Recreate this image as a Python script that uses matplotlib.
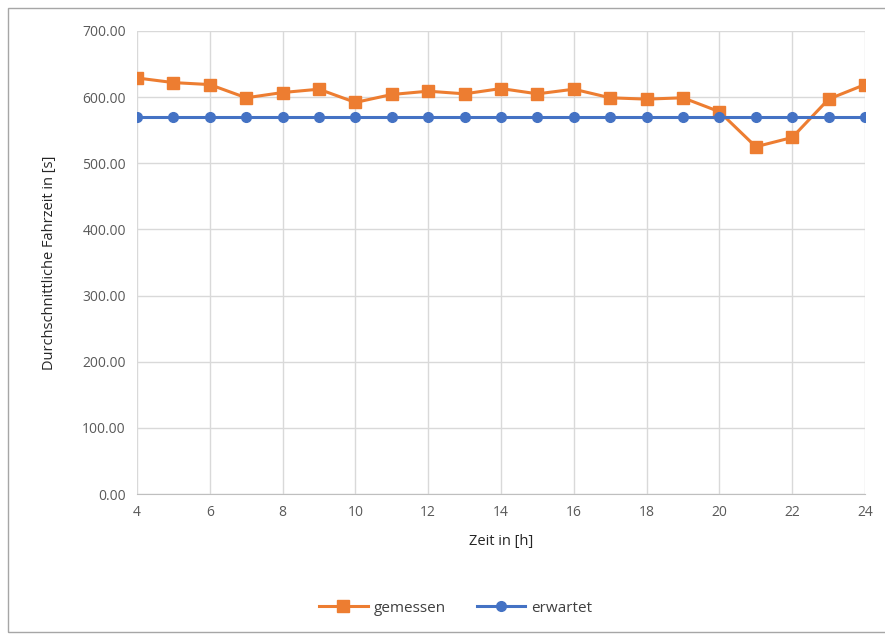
import matplotlib.pyplot as plt
from matplotlib.patches import Rectangle

hours = list(range(4, 25))
gemessen = [629, 622, 619, 599, 607, 612, 592, 604, 609, 605, 613,
            605, 612, 599, 597, 599, 578, 525, 539, 597, 619]
erwartet = [570] * len(hours)

plt.rcParams['font.family'] = ['Open Sans', 'DejaVu Sans']

fig = plt.figure(figsize=(8.85, 6.35), dpi=100)
ax = fig.add_axes([137/885, 1 - 494/635, (865 - 137)/885, (494 - 31)/635])

# thin frame round the whole chart
fig.patches.append(Rectangle((8/885, 3/635), 1.0, 1 - 11/635, transform=fig.transFigure,
                             fill=False, edgecolor='#a6a6a6', linewidth=1))

ax.plot(hours, gemessen, color='#ED7D31', marker='s', markersize=8, linewidth=2.2,
        label='gemessen', zorder=3)
ax.plot(hours, erwartet, color='#4472C4', marker='o', markersize=7, linewidth=2.2,
        label='erwartet', zorder=3)

ax.set_xlim(4, 24)
ax.set_ylim(0, 700)
ax.set_xticks(range(4, 25, 2))
ax.set_yticks(range(0, 701, 100))
ax.set_yticklabels(['%.2f' % v for v in range(0, 701, 100)])
ax.grid(True, color='#d9d9d9', linewidth=1)
ax.set_axisbelow(True)
for s in ['top', 'right', 'left']:
    ax.spines[s].set_visible(False)
ax.spines['bottom'].set_color('#bfbfbf')
ax.tick_params(length=0, labelsize=10, labelcolor='#595959', pad=8)

ax.set_xlabel('Zeit in [h]', fontsize=10.5, color='#262626', labelpad=10)
ax.set_ylabel('Durchschnittliche Fahrzeit in [s]', fontsize=10.5, color='#262626', labelpad=18)

fig.legend(loc='center', bbox_to_anchor=(0.515, 1 - 608/635), ncol=2, frameon=False,
           fontsize=11, handlelength=3.2, handletextpad=0.4, columnspacing=2.0,
           labelcolor='#404040')

fig.savefig('out.png', dpi=100)
